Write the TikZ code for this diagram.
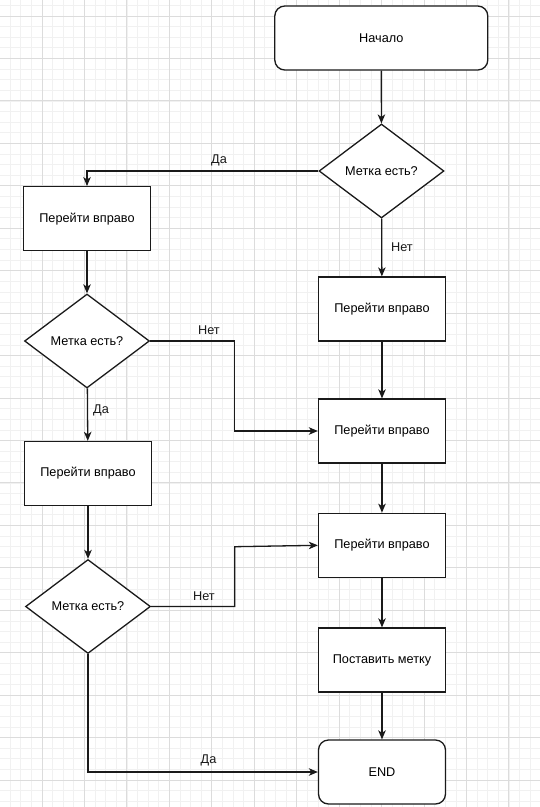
\documentclass[tikz,border=0pt]{standalone}
\usepackage{fontspec}
\setmainfont{Liberation Sans}
\usetikzlibrary{arrows.meta,shapes.geometric}
\definecolor{gridminor}{HTML}{F1F1F1}
\definecolor{gridmajor}{HTML}{DCDCDC}
\definecolor{ink}{HTML}{1A1A1A}
\tikzset{
  txt/.style={font=\fontsize{12.7pt}{15pt}\selectfont},
  box/.style={draw=ink, line width=1.3pt, fill=white, rectangle, inner sep=0pt,
    minimum width=127pt, minimum height=64pt, txt},
  term/.style={box, rounded corners=10pt},
  decision/.style={draw=ink, line width=1.3pt, fill=white, diamond, aspect=1.32, inner sep=0pt,
    minimum width=125pt, minimum height=94pt, txt},
  conn/.style={draw=ink, line width=1.3pt, -{Stealth[length=9pt,width=7.5pt,inset=2.5pt]}},
  lbl/.style={txt, inner sep=0pt, text=ink},
}
\begin{document}
\begin{tikzpicture}[x=1pt,y=-1pt]
\useasboundingbox (0,0) rectangle (540,807);
\fill[white] (0,0) rectangle (540,807);
% grid
\foreach \i in {0,...,52} {
  \draw[gridminor, line width=0.8pt] ({-0.44+\i*10.6125},0) -- ({-0.44+\i*10.6125},807);
}
\foreach \i in {0,...,77} {
  \draw[gridminor, line width=0.8pt] (0,{-5.22+\i*10.6125}) -- (540,{-5.22+\i*10.6125});
}
\foreach \i in {0,...,13} {
  \draw[gridmajor, line width=1pt] ({-0.44+\i*42.45},0) -- ({-0.44+\i*42.45},807);
}
\foreach \i in {0,...,19} {
  \draw[gridmajor, line width=1pt] (0,{16+\i*42.45-42.45}) -- (540,{16+\i*42.45-42.45});
}

% nodes
\node[term, minimum width=213pt] (start) at (381.3,38) {Начало};
\node[decision] (d1) at (381.5,171) {Метка есть?};
\node[box] (a) at (87,218.7) {Перейти вправо};
\node[box] (r1) at (382,309) {Перейти вправо};
\node[decision] (d2) at (87,341) {Метка есть?};
\node[box] (r2) at (382,431) {Перейти вправо};
\node[box] (l2) at (88,473.5) {Перейти вправо};
\node[box] (r3) at (382,545.3) {Перейти вправо};
\node[decision] (d3) at (88,606.5) {Метка есть?};
\node[box] (r4) at (382,660) {Поставить метку};
\node[term] (end) at (382,772) {END};

\coordinate (k2) at (234.5,341);
\coordinate (k3a) at (234.7,606.5);
\coordinate (k3b) at (234.7,546.7);

% connectors
\draw[conn] (start) -- (d1);
\draw[conn] (d1.west) -| (a.north);
\draw[conn] (d1) -- (r1);
\draw[conn] (a) -- (d2);
\draw[conn] (r1) -- (r2);
\draw[conn] (d2.east) -- (k2) |- (r2.west);
\draw[conn] (d2) -- (l2);
\draw[conn] (r2) -- (r3);
\draw[conn] (l2) -- (d3);
\draw[conn] (d3.east) -- (k3a) -- (k3b) -- (r3.west);
\draw[conn] (r3) -- (r4);
\draw[conn] (r4) -- (end);
\draw[conn] (d3.south) |- (end.west);

% labels
\node[lbl] (t1) at (219,160.5) {Да};
\node[lbl] (t2) at (402,247) {Нет};
\node[lbl] (t3) at (209,330.5) {Нет};
\node[lbl] (t4) at (101,410) {Да};
\node[lbl] (t5) at (204,596) {Нет};
\node[lbl] (t6) at (208.5,760.5) {Да};
\end{tikzpicture}
\end{document}
